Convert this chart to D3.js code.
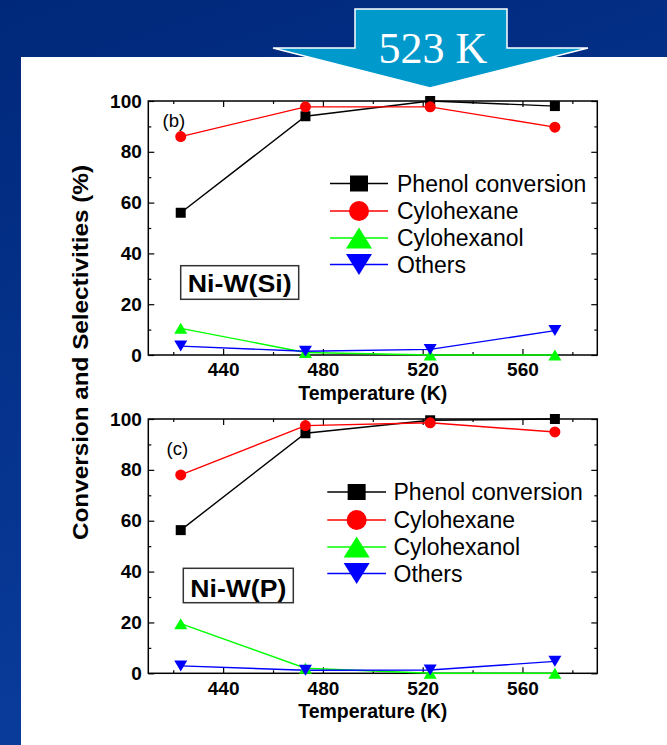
<!DOCTYPE html>
<html><head><meta charset="utf-8">
<script src="https://cdn.jsdelivr.net/npm/d3@7/dist/d3.min.js"></script>
<style>html,body{margin:0;padding:0;background:#002a7a;}svg{display:block;}</style>
</head><body>
<svg id="c" width="667" height="745"></svg>
<script>
// ---- data ----
const temperatures = [423, 473, 523, 573];
const seriesNames = ["Phenol conversion", "Cylohexane", "Cylohexanol", "Others"];
const siPhenol      = [56, 94, 100, 98];
const siCyclohexane = [86, 97.7, 97.7, 89.7];
const siCyclohexanol= [10.5, 1, 0, 0];
const siOthers      = [3.5, 1.5, 2.2, 9.6];
const pPhenol       = [56.3, 94.4, 99.5, 100];
const pCyclohexane  = [78, 97.4, 98.5, 94.9];
const pCyclohexanol = [19.5, 2, 0, 0];
const pOthers       = [2.9, 1.2, 1.3, 4.7];
const xMajorTicks = [440, 480, 520, 560];
const xMinorTicks = [420, 460, 500, 540, 580];
const yMajorTicks = [0, 20, 40, 60, 80, 100];
const yMinorTicks = [10, 30, 50, 70, 90];
const panelLabels = ["(b)", "(c)"];
const catalystLabels = ["Ni-W(Si)", "Ni-W(P)"];
const highlightLabel = "523 K";

const colors = ["#000000", "#ff0000", "#00ff00", "#0000ff"];
const shapes = ["square", "circle", "triUp", "triDown"];

const svg = d3.select("#c");
const defs = svg.append("defs");
const bg = defs.append("linearGradient").attr("id","bg").attr("x1",0).attr("y1",0).attr("x2",0.3).attr("y2",1);
bg.append("stop").attr("offset","0%").attr("stop-color","#00287a");
bg.append("stop").attr("offset","100%").attr("stop-color","#0a3d9e");
svg.append("rect").attr("width",667).attr("height",745).attr("fill","url(#bg)");
svg.append("rect").attr("x",21).attr("y",57).attr("width",646).attr("height",688).attr("fill","#ffffff");

// arrow
const arrowPts = [[355,9],[507,9],[507,48],[588,48],[430,88],[273,48],[355,48]];
svg.append("polygon").attr("points", arrowPts.map(p=>p.join(",")).join(" "))
  .attr("fill","#0099cc").attr("stroke","#ffffff").attr("stroke-width",1.5);
svg.append("text").attr("x",433).attr("y",63).attr("text-anchor","middle")
  .attr("font-family","'Liberation Serif','Times New Roman',serif").attr("font-size",44)
  .attr("fill","#ffffff").text(highlightLabel);

function markerPath(shape, w, h) {
  const p = d3.path();
  if (shape === "square") { p.rect(-w/2,-h/2,w,h); }
  else if (shape === "circle") { p.ellipse ? 0 : 0; p.arc(0,0,w/2,0,2*Math.PI); }
  else if (shape === "triUp") { p.moveTo(0,-h/2); p.lineTo(w/2,h/2); p.lineTo(-w/2,h/2); p.closePath(); }
  else { p.moveTo(-w/2,-h/2); p.lineTo(w/2,-h/2); p.lineTo(0,h/2); p.closePath(); }
  return p.toString();
}
const dataSize = {square:[10,10], circle:[11,11], triUp:[13,11], triDown:[13,11]};
const legSize  = {square:[18,16], circle:[20,20], triUp:[26,21], triDown:[26,21]};

function drawPanel(cfg) {
  const x = d3.scaleLinear().domain([410, 590]).range([148.3, 597.3]);
  const y = d3.scaleLinear().domain([0, 100]).range([cfg.bottom, cfg.top]);
  const g = svg.append("g");
  // frame
  g.append("rect").attr("x",x.range()[0]).attr("y",cfg.top)
    .attr("width",x.range()[1]-x.range()[0]).attr("height",cfg.bottom-cfg.top)
    .attr("fill","none").attr("stroke","#000").attr("stroke-width",1.5);
  // bottom axis (inward ticks)
  const axB = g.append("g").attr("transform",`translate(0,${cfg.bottom})`)
    .call(d3.axisBottom(x).tickValues(xMajorTicks).tickSize(-6).tickPadding(9).tickFormat(d3.format("d")));
  axB.select(".domain").remove();
  axB.selectAll("text").attr("font-family","'Liberation Sans',Arial,sans-serif").attr("font-weight","bold").attr("font-size",19).attr("fill","#000").attr("dy","0.71em").attr("y",8);
  axB.selectAll("line").attr("stroke-width",1.3);
  const axBm = g.append("g").attr("transform",`translate(0,${cfg.bottom})`)
    .call(d3.axisBottom(x).tickValues(xMinorTicks).tickSize(-3).tickFormat(""));
  axBm.select(".domain").remove();
  // top ticks
  const axT = g.append("g").attr("transform",`translate(0,${cfg.top})`)
    .call(d3.axisTop(x).tickValues(xMajorTicks).tickSize(-6).tickFormat(""));
  axT.select(".domain").remove();
  const axTm = g.append("g").attr("transform",`translate(0,${cfg.top})`)
    .call(d3.axisTop(x).tickValues(xMinorTicks).tickSize(-3).tickFormat(""));
  axTm.select(".domain").remove();
  // left axis
  const axL = g.append("g").attr("transform",`translate(${x.range()[0]},0)`)
    .call(d3.axisLeft(y).tickValues(yMajorTicks).tickSize(-6).tickPadding(7).tickFormat(d3.format("d")));
  axL.select(".domain").remove();
  axL.selectAll("text").attr("font-family","'Liberation Sans',Arial,sans-serif").attr("font-weight","bold").attr("font-size",19).attr("fill","#000").attr("x",-6.5);
  const axLm = g.append("g").attr("transform",`translate(${x.range()[0]},0)`)
    .call(d3.axisLeft(y).tickValues(yMinorTicks).tickSize(-3).tickFormat(""));
  axLm.select(".domain").remove();
  const axR = g.append("g").attr("transform",`translate(${x.range()[1]},0)`)
    .call(d3.axisRight(y).tickValues(yMajorTicks).tickSize(-6).tickFormat(""));
  axR.select(".domain").remove();
  const axRm = g.append("g").attr("transform",`translate(${x.range()[1]},0)`)
    .call(d3.axisRight(y).tickValues(yMinorTicks).tickSize(-3).tickFormat(""));
  axRm.select(".domain").remove();
  g.selectAll(".tick line").attr("stroke","#000").attr("stroke-width",1.2);

  // x title
  g.append("text").attr("x",(x.range()[0]+x.range()[1])/2).attr("y",cfg.bottom+45)
    .attr("text-anchor","middle").attr("font-family","'Liberation Sans',Arial,sans-serif")
    .attr("font-weight","bold").attr("font-size",19.5).text("Temperature (K)");

  // series lines and markers
  const line = d3.line().x((d,i)=>x(temperatures[i])).y(d=>y(d));
  cfg.series.forEach((vals, k) => {
    g.append("path").datum(vals).attr("d", line).attr("fill","none")
      .attr("stroke", colors[k]).attr("stroke-width",1.4);
  });
  cfg.series.forEach((vals, k) => {
    const [w,h] = dataSize[shapes[k]];
    g.selectAll(null).data(vals).join("path")
      .attr("transform",(d,i)=>`translate(${x(temperatures[i])},${y(d)})`)
      .attr("d", markerPath(shapes[k], w, h)).attr("fill", colors[k]);
  });

  // panel label
  g.append("text").attr("x",cfg.labelX).attr("y",cfg.labelY)
    .attr("font-family","'Liberation Sans',Arial,sans-serif").attr("font-size",18.5).text(cfg.label);

  // catalyst box
  g.append("rect").attr("x",cfg.box[0]).attr("y",cfg.box[1]).attr("width",cfg.box[2]).attr("height",cfg.box[3])
    .attr("fill","#fff").attr("stroke","#333").attr("stroke-width",1.5);
  g.append("text").attr("x",cfg.box[0]+cfg.box[2]/2).attr("y",cfg.boxBase).attr("text-anchor","middle")
    .attr("font-family","'Liberation Sans',Arial,sans-serif").attr("font-weight","bold").attr("font-size",24)
    .attr("textLength",cfg.boxTextLen).attr("lengthAdjust","spacingAndGlyphs").text(cfg.cat);

  // legend
  seriesNames.forEach((name, k) => {
    const by = cfg.legBase[k];
    const cy = by - 8;
    g.append("line").attr("x1",cfg.legX[0]).attr("x2",cfg.legX[1]).attr("y1",cy).attr("y2",cy)
      .attr("stroke",colors[k]).attr("stroke-width",1.5);
    const [w,h] = legSize[shapes[k]];
    g.append("path").attr("transform",`translate(${(cfg.legX[0]+cfg.legX[1])/2},${cy})`)
      .attr("d", markerPath(shapes[k], w, h)).attr("fill", colors[k]);
    g.append("text").attr("x",cfg.legText).attr("y",by)
      .attr("font-family","'Liberation Sans',Arial,sans-serif").attr("font-size",23).text(name);
  });
}

drawPanel({top:101, bottom:355, series:[siPhenol, siCyclohexane, siCyclohexanol, siOthers],
  label:panelLabels[0], labelX:162.5, labelY:126.5, cat:catalystLabels[0],
  box:[180.7,265.7,118,33.6], boxBase:291.5, boxTextLen:104,
  legX:[330,388], legText:397, legBase:[191.5,219,246,272.5]});
drawPanel({top:419, bottom:673.3, series:[pPhenol, pCyclohexane, pCyclohexanol, pOthers],
  label:panelLabels[1], labelX:166.5, labelY:455, cat:catalystLabels[1],
  box:[183.3,568.3,110,34.4], boxBase:596.5, boxTextLen:96,
  legX:[327.3,386], legText:393.5, legBase:[500,528,555,581.5]});

// y title
svg.append("text").attr("transform","translate(87.5,352.5) rotate(-90)").attr("text-anchor","middle")
  .attr("font-family","'Liberation Sans',Arial,sans-serif").attr("font-weight","bold").attr("font-size",22)
  .attr("textLength",375).attr("lengthAdjust","spacingAndGlyphs").text("Conversion and Selectivities (%)");
</script>
</body></html>
